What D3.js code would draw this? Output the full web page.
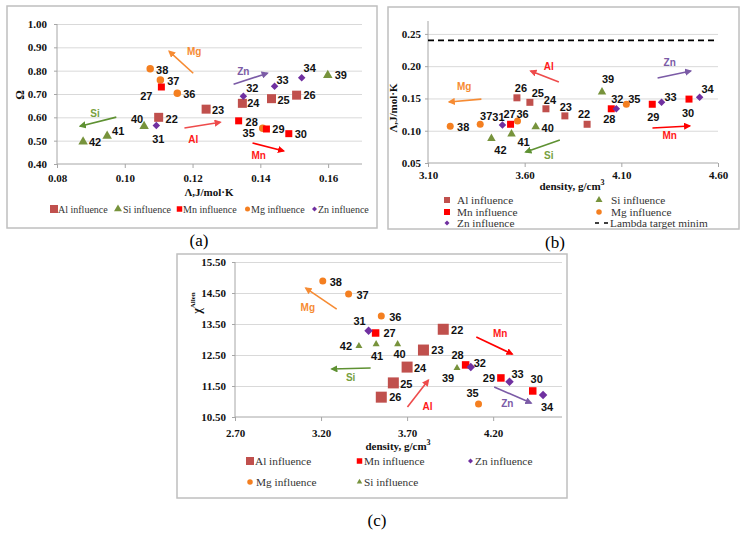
<html>
<head>
<title>Alloy influence charts</title>
<script src="https://cdn.jsdelivr.net/npm/d3@7"></script>
</head>
<body style='margin: 0;padding: 0;background: #fff'>
<div id="fig"></div>
<script>

// sample numbers and the element each one varies
var ids = [22, 23, 24, 25, 26, 27, 28, 29, 30, 31, 32, 33, 34, 35, 36, 37, 38, 39, 40, 41, 42]
var element = ['Al','Al','Al','Al','Al','Mn','Mn','Mn','Mn','Zn','Zn','Zn','Zn','Mg','Mg','Mg','Mg','Si','Si','Si','Si']

// (a) Lambda vs Omega
var lambdaA = [0.110, 0.124, 0.1347, 0.1433, 0.1507, 0.1108, 0.1336, 0.1418, 0.1484, 0.1093, 0.135, 0.1442, 0.1522,
               0.1407, 0.1155, 0.1105, 0.1075, 0.1599, 0.1057, 0.0948, 0.0877]
var omegaA = [0.600, 0.635, 0.660, 0.680, 0.695, 0.730, 0.585, 0.550, 0.530, 0.565, 0.690, 0.733, 0.770,
              0.553, 0.703, 0.760, 0.808, 0.780, 0.562, 0.520, 0.495]

// (b) density vs Lambda
var densityB = [3.923, 3.808, 3.71, 3.627, 3.56, 3.527, 4.048, 4.26, 4.45, 3.485, 4.074, 4.308, 4.505,
                4.126, 3.563, 3.37, 3.215, 4.0, 3.657, 3.532, 3.428]
var lambdaB = [0.110, 0.123, 0.134, 0.144, 0.151, 0.110, 0.134, 0.141, 0.149, 0.109, 0.134, 0.144, 0.152,
               0.141, 0.115, 0.110, 0.107, 0.160, 0.106, 0.095, 0.088]
var lambdaTarget = 0.24

// (c) density vs chi Allen
var densityC = [3.91, 3.795, 3.70, 3.62, 3.55, 3.517, 4.04, 4.245, 4.43, 3.476, 4.07, 4.295, 4.49,
                4.115, 3.55, 3.36, 3.21, 3.99, 3.645, 3.52, 3.42]
var chiC = [13.33, 12.66, 12.11, 11.60, 11.14, 13.21, 12.18, 11.76, 11.34, 13.28, 12.11, 11.64, 11.21,
            10.92, 13.76, 14.47, 14.89, 12.08, 12.85, 12.85, 12.79]

// trend arrows: element, from [x,y], to [x,y], label [x,y] in data units
var arrowsA = [
  ['Mg', [0.1202, 0.789], [0.1131, 0.883], [0.1205, 0.883]],
  ['Si', [0.0975, 0.601], [0.0868, 0.562], [0.0912, 0.618]],
  ['Al', [0.1176, 0.554], [0.1282, 0.579], [0.1202, 0.507]],
  ['Zn', [0.1321, 0.742], [0.1421, 0.789], [0.1350, 0.797]],
  ['Mn', [0.1377, 0.490], [0.1469, 0.456], [0.1395, 0.438]]]
var arrowsB = [
  ['Al', [3.777, 0.1756], [3.631, 0.1926], [3.725, 0.199]],
  ['Mg', [3.376, 0.149], [3.209, 0.1446], [3.2875, 0.168]],
  ['Si', [3.782, 0.0857], [3.605, 0.067], [3.725, 0.062]],
  ['Zn', [4.2875, 0.1818], [4.459, 0.1926], [4.35, 0.205]],
  ['Mn', [4.261, 0.1043], [4.454, 0.1074], [4.35, 0.092]]]
var arrowsC = [
  ['Mg', [3.291, 13.98], [3.111, 14.66], [3.123, 14.02]],
  ['Si', [3.488, 12.08], [3.262, 12.05], [3.372, 11.76]],
  ['Al', [3.702, 10.82], [3.824, 11.69], [3.818, 10.85]],
  ['Mn', [4.102, 13.08], [4.311, 12.53], [4.241, 13.18]],
  ['Zn', [4.206, 11.47], [4.421, 10.95], [4.282, 10.92]]]

var ticksA_x = [0.08, 0.10, 0.12, 0.14, 0.16]
var ticksA_y = [0.40, 0.50, 0.60, 0.70, 0.80, 0.90, 1.00]
var ticksB_x = [3.10, 3.60, 4.10, 4.60]
var ticksB_y = [0.05, 0.10, 0.15, 0.20, 0.25]
var ticksC_x = [2.70, 3.20, 3.70, 4.20]
var ticksC_y = [10.50, 11.50, 12.50, 13.50, 14.50, 15.50]

// label nudges (px) for each sample, same order as ids
var offA = [[13,2],[12,1],[11,0],[12,1],[13,0],[-15,9],[13,1],[12,0],[12,0],[2,13],[9,-8],[8,-6],[8,-10],
            [-14,5],[12,1],[13,1],[12,1],[13,0],[-7,-7],[11,-5],[12,0]]
var offB = [[-3,-10],[1,-9],[4,-9],[8,-9],[4,-10],[-1,-10],[-2,10],[1,13],[-1,14],[-4,-8],[1,-10],[9,-5],[8,-8],
            [8,-5],[5,-7],[6,-8],[13,1],[6,-13],[12,1],[12,8],[9,12]]
var offC = [[14,1],[14,0],[13,1],[13,1],[14,0],[14,0],[-8,-10],[-12,0],[4,-12],[-9,-10],[9,-4],[8,-8],[4,12],
            [-6,-11],[14,1],[14,1],[13,1],[-9,10],[2,10],[1,12],[-13,0]]

var colour = {Al: '#C0504D', Mn: '#FF0000', Zn: '#7030A0', Mg: '#F47F20', Si: '#77933C'}
var arrowColour = {Al: '#EE4B4B', Mn: '#FF0000', Zn: '#7B5BA6', Mg: '#F68B33', Si: '#5E9132'}
var labelColour = {Al: '#FF1A1A', Mn: '#FF1A1A', Zn: '#7B5BA6', Mg: '#F68B33', Si: '#77A040'}

var serif = "Liberation Serif, Times New Roman, serif"
var sans = "Liberation Sans Narrow, Liberation Sans, Arial, sans-serif"
var sansWide = "Liberation Sans, Arial, sans-serif"

var svg = d3.select('#fig').append('svg').attr('width', 746).attr('height', 533)
var defs = svg.append('defs')

Object.keys(arrowColour).forEach(k => {
  defs.append('marker').attr('id', 'arr-' + k)
    .attr('viewBox', '0 0 10 10').attr('refX', 8).attr('refY', 5)
    .attr('markerWidth', 4.5).attr('markerHeight', 4.5).attr('orient', 'auto')
    .append('path').attr('d', 'M0,0L10,5L0,10z').attr('fill', arrowColour[k])
})

function shape(el, s) {
  if (el == 'Al' || el == 'Mn') return d3.symbol(d3.symbolSquare, s * s)()
  if (el == 'Mg') return d3.symbol(d3.symbolCircle, Math.PI * s * s / 4)()
  if (el == 'Zn') return d3.symbol(d3.symbolSquare, s * s / 2)()
  return d3.symbol(d3.symbolTriangle, s * s * Math.sqrt(3) / 4)()
}

function frame(x, y, w, h) {
  svg.append('rect').attr('x', x).attr('y', y).attr('width', w).attr('height', h)
    .style('fill', 'none').style('stroke', '#BFBFBF').style('stroke-width', '1.5px')
}

function tickText(sel) {
  sel.attr('font-family', serif).attr('font-weight', 'bold').attr('font-size', 11)
    .style('font-family', serif).style('font-weight', 'bold').style('font-size', '11px').style('fill', '#111')
}

function panel(p) {
  var g = svg.append('g')
  var x = d3.scaleLinear().domain(p.xd).range(p.xr)
  var y = d3.scaleLinear().domain(p.yd).range(p.yr)

  // gridlines
  g.append('g').attr('transform', 'translate(' + p.xr[0] + ',0)')
    .call(d3.axisLeft(y).tickValues(p.yt.slice(1)).tickSize(-(p.xr[1] - p.xr[0])).tickFormat(''))
    .call(a => a.select('.domain').remove())
    .selectAll('line').style('stroke', '#D9D9D9')

  // y axis
  var ya = g.append('g').attr('transform', 'translate(' + p.xr[0] + ',0)')
    .call(d3.axisLeft(y).tickValues(p.yt).tickSize(3).tickPadding(p.ypad).tickFormat(d3.format('.2f')))
  ya.select('.domain').attr('d', 'M0,' + p.yr[0] + 'V' + p.yr[1]).style('stroke', '#A6A6A6')
  ya.selectAll('line').style('stroke', '#A6A6A6')
  tickText(ya.selectAll('text'))

  // x axis
  var xa = g.append('g').attr('transform', 'translate(0,' + p.yr[0] + ')')
    .call(d3.axisBottom(x).tickValues(p.xt).tickSize(4).tickPadding(p.xpad).tickFormat(d3.format('.2f')))
  xa.select('.domain').attr('d', 'M' + p.xr[0] + ',0H' + p.xr[1]).style('stroke', '#A6A6A6')
  xa.selectAll('line').style('stroke', '#A6A6A6')
  tickText(xa.selectAll('text'))

  if (p.extra) p.extra(g, x, y)

  // trend arrows
  p.arrows.forEach(a => {
    g.append('line')
      .attr('x1', x(a[1][0])).attr('y1', y(a[1][1]))
      .attr('x2', x(a[2][0])).attr('y2', y(a[2][1]))
      .style('stroke', arrowColour[a[0]]).style('stroke-width', '1.6px')
      .attr('marker-end', 'url(#arr-' + a[0] + ')')
    g.append('text').text(a[0])
      .attr('x', x(a[3][0])).attr('y', y(a[3][1]))
      .attr('text-anchor', 'middle').attr('dominant-baseline', 'central')
      .style('font-family', sansWide).style('font-weight', 'bold').style('font-size', '10px')
      .style('fill', labelColour[a[0]])
  })

  // points, drawn series by series
  ;['Al', 'Si', 'Mg', 'Mn', 'Zn'].forEach(el => {
    var idx = d3.range(ids.length).filter(i => element[i] == el)
    g.selectAll('.pt-' + el).data(idx).enter().append('path')
      .attr('d', shape(el, p.size[el]))
      .attr('transform', i => 'translate(' + x(p.xv[i]) + ',' + y(p.yv[i]) + ')' + (el == 'Zn' ? ' rotate(45)' : ''))
      .style('fill', colour[el])
  })

  g.selectAll('.num').data(d3.range(ids.length)).enter().append('text')
    .text(i => ids[i])
    .attr('x', i => x(p.xv[i]) + p.off[i][0])
    .attr('y', i => y(p.yv[i]) + p.off[i][1])
    .attr('text-anchor', 'middle').attr('dominant-baseline', 'central')
    .style('font-family', sans).style('font-weight', 'bold').style('font-size', '11px').style('fill', '#111')

  return g
}

function legendItem(el, mx, my, s, tx, txt, fs) {
  svg.append('path').attr('d', shape(el, s))
    .attr('transform', 'translate(' + mx + ',' + my + ')' + (el == 'Zn' ? ' rotate(45)' : ''))
    .style('fill', colour[el])
  svg.append('text').text(txt).attr('x', tx).attr('y', my).attr('dominant-baseline', 'central')
    .style('font-family', serif).style('font-size', (fs || 11.3) + 'px').style('fill', '#333')
}

function title(txt, x, y, rot, size) {
  var t = svg.append('text').text(txt).attr('x', x).attr('y', y).attr('text-anchor', 'middle')
    .attr('dominant-baseline', 'central')
    .style('font-family', serif).style('font-weight', 'bold').style('font-size', (size || 11) + 'px').style('fill', '#111')
  if (rot) t.attr('transform', 'rotate(-90,' + x + ',' + y + ')')
  return t
}

// ---------- (a)
frame(7, 6, 370, 222)
panel({xd: [0.08, 0.17], xr: [57, 362], yd: [0.4, 1.0], yr: [164, 24], xt: ticksA_x, yt: ticksA_y,
  xv: lambdaA, yv: omegaA, off: offA, arrows: arrowsA, ypad: 7, xpad: 6,
  size: {Al: 9, Mn: 7, Mg: 7.5, Zn: 7.5, Si: 9.5}})
title('Λ,J/mol·K', 209, 192)
title('Ω', 20, 95, true, 12)
legendItem('Al', 54, 209, 8, 58, 'Al influence', 10)
legendItem('Si', 118, 209, 8, 123, 'Si influence', 10)
legendItem('Mn', 179.5, 209, 5.5, 183, 'Mn influence', 10)
legendItem('Mg', 247.5, 209, 5, 251, 'Mg influence', 10)
legendItem('Zn', 314.5, 209, 5, 318, 'Zn influence', 10)
svg.append('text').text('(a)').attr('x', 199).attr('y', 240).attr('text-anchor', 'middle')
  .attr('dominant-baseline', 'central').style('font-family', serif).style('font-size', '17px')

// ---------- (b)
frame(388, 7, 351, 222)
panel({xd: [3.1, 4.6], xr: [428, 718], yd: [0.05, 0.27], yr: [163, 21], xt: ticksB_x, yt: ticksB_y,
  xv: densityB, yv: lambdaB, off: offB, arrows: arrowsB, ypad: 4, xpad: 4,
  size: {Al: 7, Mn: 7, Mg: 7, Zn: 7.5, Si: 8.5},
  extra: (g, x, y) => {
    g.append('line').attr('x1', 428).attr('x2', 718).attr('y1', y(lambdaTarget)).attr('y2', y(lambdaTarget))
      .style('stroke', '#000').style('stroke-width', '1.6px').style('stroke-dasharray', '6,4')
  }})
var tb = title('density, g/cm', 572, 186)
tb.append('tspan').text('3').attr('dy', -4).style('font-size', '8px')
title('Λ,J/mol·K', 393, 108, true)
legendItem('Al', 447, 200, 6, 457, 'Al influence')
legendItem('Si', 599, 200, 7, 611, 'Si influence')
legendItem('Mn', 447, 212, 6, 457, 'Mn influence')
legendItem('Mg', 599, 212, 5.5, 611, 'Mg influence')
legendItem('Zn', 447, 223, 5, 457, 'Zn influence')
svg.append('line').attr('x1', 595).attr('x2', 610).attr('y1', 223).attr('y2', 223)
  .style('stroke', '#000').style('stroke-width', '1.6px').style('stroke-dasharray', '4,5')
svg.append('text').text('Lambda target minim').attr('x', 610).attr('y', 223).attr('dominant-baseline', 'central')
  .style('font-family', serif).style('font-size', '11.3px').style('fill', '#333')
svg.append('text').text('(b)').attr('x', 555).attr('y', 242).attr('text-anchor', 'middle')
  .attr('dominant-baseline', 'central').style('font-family', serif).style('font-size', '17px')

// ---------- (c)
frame(177, 254, 390, 244)
panel({xd: [2.7, 4.6], xr: [235, 562], yd: [10.5, 15.5], yr: [417, 262], xt: ticksC_x, yt: ticksC_y,
  xv: densityC, yv: chiC, off: offC, arrows: arrowsC, ypad: 6, xpad: 8,
  size: {Al: 11, Mn: 7.5, Mg: 7, Zn: 8.5, Si: 7}})
var tc = title('density, g/cm', 398, 446)
tc.append('tspan').text('3').attr('dy', -4).style('font-size', '8px')
var yc = title('χ', 197, 303, true, 12)
yc.append('tspan').text('Allen').attr('dy', -4).style('font-size', '7px')
legendItem('Al', 250, 461, 8, 255, 'Al influence')
legendItem('Mn', 359.5, 461, 5.5, 364, 'Mn influence')
legendItem('Zn', 470.5, 461, 5, 475, 'Zn influence')
legendItem('Mg', 250, 482, 5.5, 256, 'Mg influence')
legendItem('Si', 359.5, 482, 5.5, 364, 'Si influence')
svg.append('text').text('(c)').attr('x', 377).attr('y', 520).attr('text-anchor', 'middle')
  .attr('dominant-baseline', 'central').style('font-family', serif).style('font-size', '17px')

</script>
</body>
</html>
